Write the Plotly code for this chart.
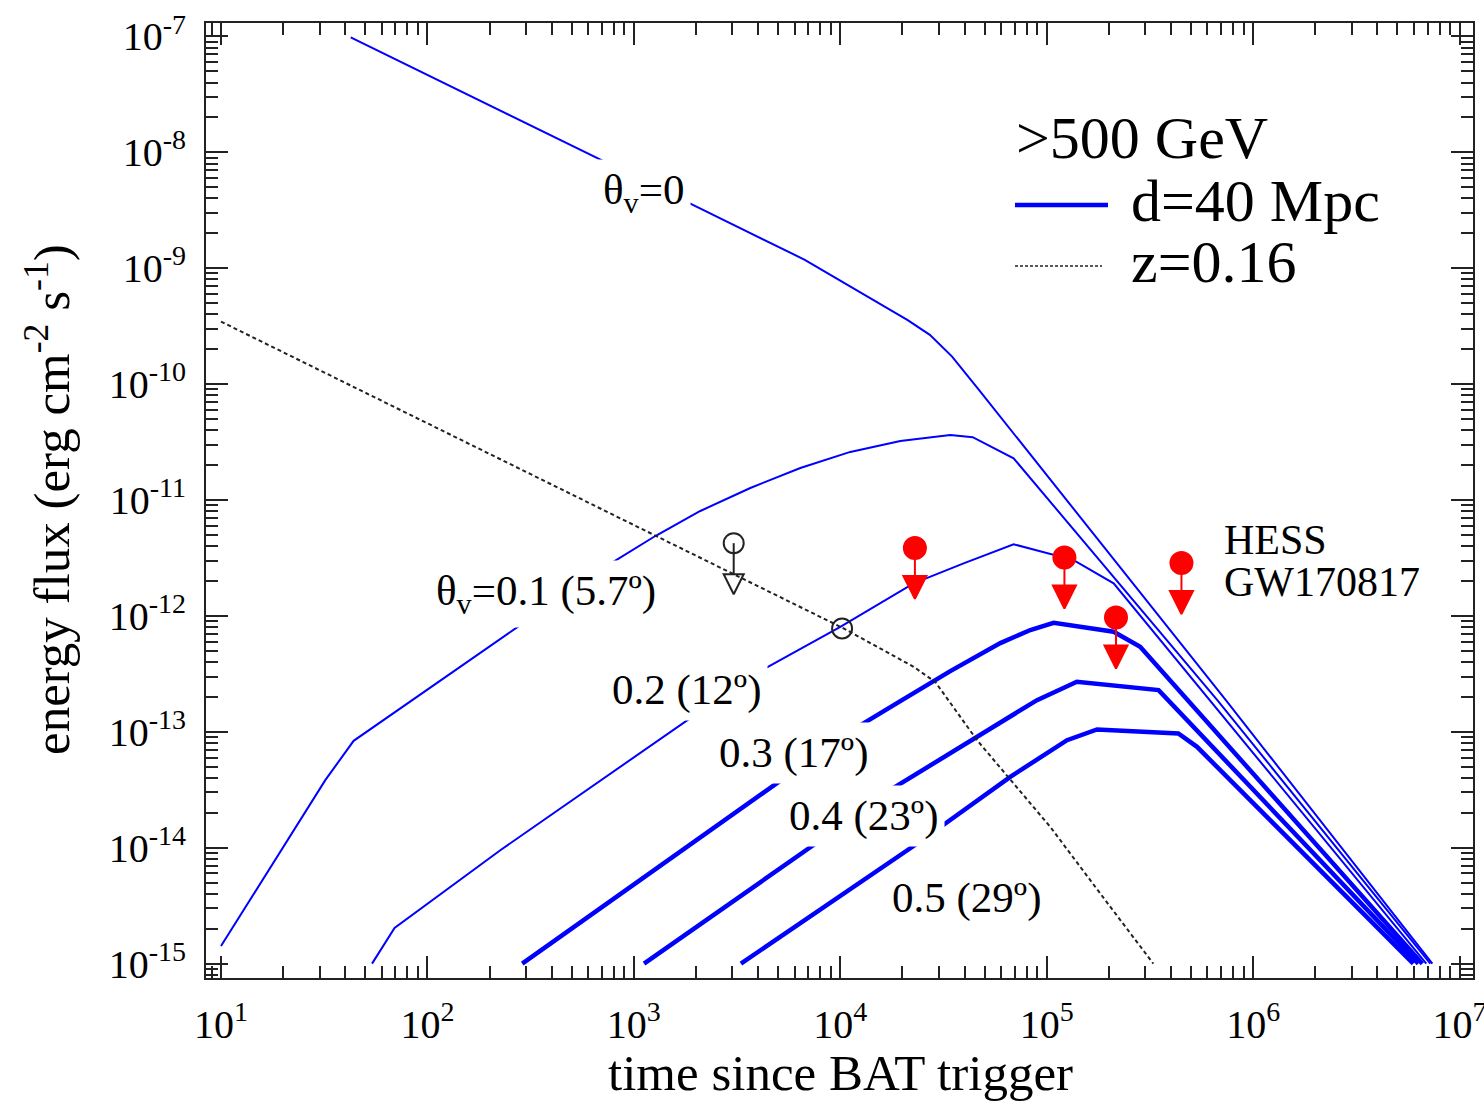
import plotly.graph_objects as go
import numpy as np

# ---------------- data (time in s, energy flux in erg cm^-2 s^-1) ----------------
t_th0 = [42.5, 743, 1825, 6730, 21110, 27150, 34800, 46940, 737200, 7.38e6]
f_th0 = [9.80e-8, 8.17e-9, 3.69e-9, 1.181e-9, 3.58e-10, 2.66e-10, 1.727e-10, 8.91e-11,
         1.877e-13, 1.0e-15]

t_th1 = [10, 32.0, 43.9, 271.6, 795, 1270, 2098, 3665, 6403, 11180, 19530, 34110, 43790,
         69110, 670400, 7.215e6]
f_th1 = [1.42e-15, 3.83e-14, 8.36e-14, 7.96e-13, 2.93e-12, 4.89e-12, 8.04e-12, 1.27e-11,
         1.89e-11, 2.60e-11, 3.23e-11, 3.64e-11, 3.48e-11, 2.29e-11, 1.877e-13, 1.0e-15]

t_th2 = [53.9, 69.3, 225.4, 1947, 4176, 10000, 22650, 39570, 69110, 134960, 210900, 354900, 6.897e6]
f_th2 = [1.0e-15, 2.03e-15, 9.51e-15, 1.374e-13, 3.41e-13, 8.06e-13, 1.91e-12, 2.84e-12,
         4.15e-12, 3.03e-12, 1.91e-12, 6.19e-13, 1.0e-15]

t_th3 = [287.8, 2098, 5220, 10970, 19530, 34110, 59600, 83270, 108000, 210900, 283500, 6.597e6]
f_th3 = [1.0e-15, 1.24e-14, 3.90e-14, 9.88e-14, 1.84e-13, 3.34e-13, 5.83e-13, 7.55e-13,
         8.73e-13, 7.30e-13, 5.41e-13, 1.0e-15]

t_th4 = [1120, 8003, 16840, 45950, 89730, 139900, 348300, 6.31e6]
f_th4 = [1.0e-15, 1.16e-14, 3.03e-14, 9.05e-14, 1.877e-13, 2.70e-13, 2.29e-13, 1.0e-15]

t_th5 = [3300, 24880, 66600, 125400, 175200, 433900, 534600, 5.968e6]
f_th5 = [1.0e-15, 1.16e-14, 4.09e-14, 8.47e-14, 1.048e-13, 9.68e-14, 7.42e-14, 1.0e-15]

t_z016 = [10, 10370, 22650, 28860, 45950, 104100, 181800, 328300]
f_z016 = [3.46e-10, 7.81e-13, 3.64e-13, 2.69e-13, 8.47e-14, 1.51e-14, 4.02e-15, 1.0e-15]

# open black symbols
t_open_ul = [3045]
f_open_ul = [4.24e-12]
t_open_pt = [10200]
f_open_pt = [7.8e-13]

# HESS GW170817 upper limits
t_hess = [22980, 121800, 216500, 449400]
f_hess = [3.86e-12, 3.19e-12, 9.69e-13, 2.86e-12]

x_tickvals = [1e1, 1e2, 1e3, 1e4, 1e5, 1e6, 1e7]
x_ticktext = ["10<sup>1</sup>", "10<sup>2</sup>", "10<sup>3</sup>", "10<sup>4</sup>",
              "10<sup>5</sup>", "10<sup>6</sup>", "10<sup>7</sup>"]
y_tickvals = [1e-15, 1e-14, 1e-13, 1e-12, 1e-11, 1e-10, 1e-9, 1e-8, 1e-7]
y_ticktext = ["10<sup>-15</sup>", "10<sup>-14</sup>", "10<sup>-13</sup>", "10<sup>-12</sup>",
              "10<sup>-11</sup>", "10<sup>-10</sup>", "10<sup>-9</sup>", "10<sup>-8</sup>",
              "10<sup>-7</sup>"]

# ---------------- styling ----------------
W, H = 1484, 1103
ML, MR, MT, MB = 206, 11, 23, 125
PW, PH = W - ML - MR, H - MT - MB
FONT = "Liberation Serif, Times New Roman, serif"
BLUE = "#0000ff"
RED = "#ff0000"
INK = "#222222"
TIP_DEC = 0.44    # arrow tip offset below the limit (decades)
STEM_DEC = 0.27   # stem end offset below the limit (decades)


def P(px, py):
    return (px - ML) / PW, (MT + PH - py) / PH


fig = go.Figure()

for t, f, w in [(t_th0, f_th0, 2), (t_th1, f_th1, 2), (t_th2, f_th2, 2),
                (t_th3, f_th3, 4.5), (t_th4, f_th4, 4.5), (t_th5, f_th5, 4.5)]:
    fig.add_trace(go.Scatter(x=t, y=f, mode="lines", line=dict(color=BLUE, width=w),
                             showlegend=False, hoverinfo="skip"))

fig.add_trace(go.Scatter(x=t_z016, y=f_z016, mode="lines",
                         line=dict(color=INK, width=2, dash="4px,3px"),
                         showlegend=False, hoverinfo="skip"))


def limits(ts, fs, color, csym, tsym, csize, tsize):
    for t, f in zip(ts, fs):
        fig.add_trace(go.Scatter(x=[t, t], y=[f, f * 10 ** (-STEM_DEC)], mode="lines",
                                 line=dict(color=color, width=2), showlegend=False,
                                 hoverinfo="skip"))
    fig.add_trace(go.Scatter(x=ts, y=fs, mode="markers",
                             marker=dict(symbol=csym, size=csize, color=color,
                                         line=dict(color=color, width=2)),
                             showlegend=False, hoverinfo="skip"))
    fig.add_trace(go.Scatter(x=ts, y=[f * 10 ** (-TIP_DEC) for f in fs], mode="markers",
                             marker=dict(symbol=tsym, size=tsize, color=color,
                                         line=dict(color=color, width=2)),
                             showlegend=False, hoverinfo="skip"))


limits(t_open_ul, f_open_ul, INK, "circle-open", "arrow-down-open", 20, 20)
fig.add_trace(go.Scatter(x=t_open_pt, y=f_open_pt, mode="markers",
                         marker=dict(symbol="circle-open", size=20, color=INK,
                                     line=dict(color=INK, width=2)),
                         showlegend=False, hoverinfo="skip"))
limits(t_hess, f_hess, RED, "circle", "arrow-down", 22, 23)

annotations = []


def label(text, px, py, size=43, bg=None, xanchor="center", pad=2):
    x, y = P(px, py)
    d = dict(text=text, x=x, y=y, xref="paper", yref="paper", showarrow=False,
             xanchor=xanchor, yanchor="middle",
             font=dict(family=FONT, size=size, color="black"), borderpad=pad)
    if bg:
        d["bgcolor"] = bg
    annotations.append(d)


label("θ<sub>v</sub>=0", 643, 193, bg="white", pad=6)
label("θ<sub>v</sub>=0.1 (5.7º)", 546, 594, bg="white", pad=6)
label("0.2 (12º)", 686, 690, bg="white", pad=6)
label("0.3 (17º)", 793, 753, bg="white", pad=6)
label("0.4 (23º)", 863, 816, bg="white", pad=6)
label("0.5 (29º)", 966, 898)
label("HESS", 1221, 540, size=42, xanchor="left")
label("GW170817", 1221, 582, size=42, xanchor="left")

# legend
label("&gt;500 GeV", 1013, 138, size=60, xanchor="left")
label("d=40 Mpc", 1128, 201, size=60, xanchor="left")
label("z=0.16", 1128, 262, size=60, xanchor="left")

# axis titles
label("time since BAT trigger", 840, 1073, size=51)
x, y = P(48, 500)
annotations.append(dict(text="energy flux (erg cm<sup>-2</sup> s<sup>-1</sup>)", x=x, y=y,
                        xref="paper", yref="paper", showarrow=False, textangle=-90,
                        xanchor="center", yanchor="middle",
                        font=dict(family=FONT, size=51, color="black")))

shapes = []
x0, y0 = P(1015, 205)
x1, _ = P(1108, 205)
shapes.append(dict(type="line", xref="paper", yref="paper", x0=x0, x1=x1, y0=y0, y1=y0,
                   line=dict(color=BLUE, width=4.5)))
x0, y0 = P(1015, 266)
x1, _ = P(1102, 266)
shapes.append(dict(type="line", xref="paper", yref="paper", x0=x0, x1=x1, y0=y0, y1=y0,
                   line=dict(color=INK, width=1.5, dash="3px,2px")))

axis_common = dict(type="log", showline=True, linecolor=INK, linewidth=2, mirror="allticks",
                   ticks="inside", ticklen=22, tickwidth=2, tickcolor=INK, showgrid=False,
                   zeroline=False, tickmode="array", ticklabeloverflow="allow",
                   automargin=False,
                   tickfont=dict(family=FONT, size=40, color="black"),
                   minor=dict(ticks="inside", ticklen=12, tickwidth=2, tickcolor=INK,
                              dtick="D1", showgrid=False))

fig.update_layout(
    width=W, height=H,
    margin=dict(l=ML, r=MR, t=MT, b=MB, autoexpand=False),
    paper_bgcolor="white", plot_bgcolor="white",
    xaxis=dict(range=[0.9273, 7.0649], tickvals=x_tickvals, ticktext=x_ticktext,
               ticklabelstandoff=10, **axis_common),
    yaxis=dict(range=[-15.124, -6.8846], tickvals=y_tickvals, ticktext=y_ticktext,
               ticklabelstandoff=10, **axis_common),
    annotations=annotations, shapes=shapes,
    font=dict(family=FONT, color="black"),
)

fig.write_html("out.html")
